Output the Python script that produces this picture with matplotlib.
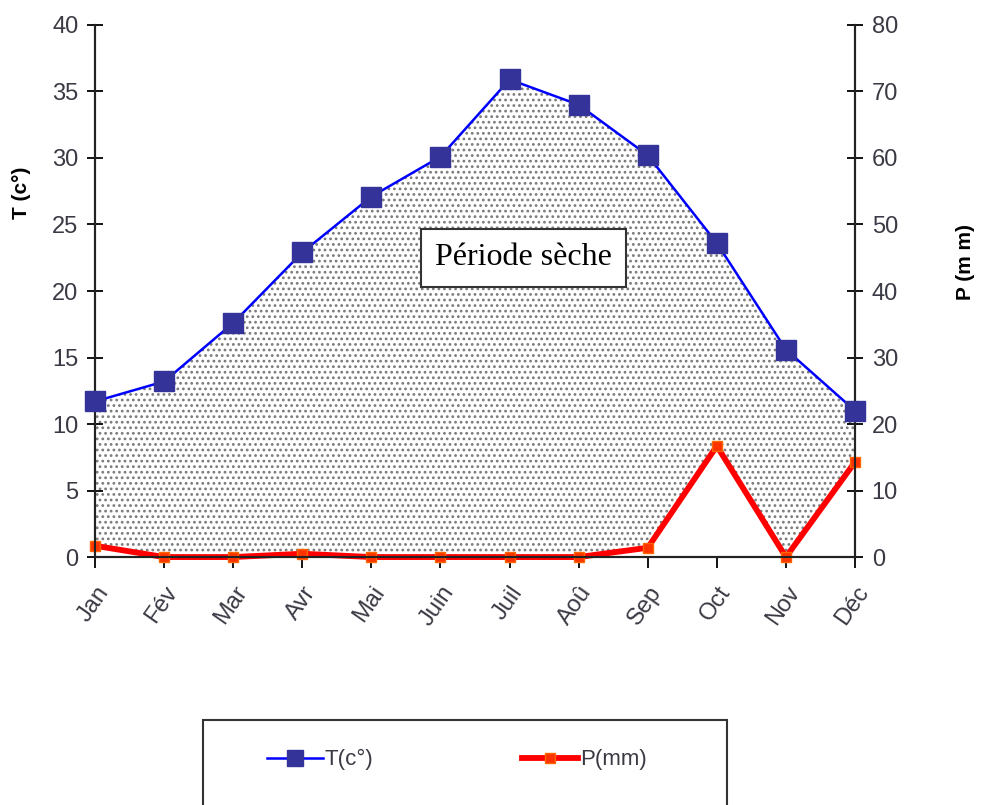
import numpy as np
import matplotlib.pyplot as plt
from matplotlib.patches import Rectangle
from matplotlib.lines import Line2D

# Données climatiques (diagramme ombrothermique)
mois = ["Jan", "Fév", "Mar", "Avr", "Mai", "Juin", "Juil", "Aoû", "Sep", "Oct", "Nov", "Déc"]
temp_c = [11.7, 13.2, 17.6, 22.9, 27.1, 30.1, 35.9, 34.0, 30.2, 23.6, 15.6, 11.0]
precip_mm = [1.7, 0.0, 0.0, 0.5, 0.0, 0.0, 0.0, 0.0, 1.4, 16.7, 0.0, 14.3]

sans = ["Liberation Sans", "DejaVu Sans"]
tick_col = "#3a3a44"
plt.rcParams["hatch.linewidth"] = 1.2
plt.rcParams["hatch.color"] = "#7a7a7a"

fig = plt.figure(figsize=(9.87, 8.05), dpi=100)
ax2 = fig.add_axes([0.0963, 0.308, 0.770, 0.661])   # P (mm), derrière
ax = ax2.twinx()                                      # T (°C), devant
ax.yaxis.tick_left()
ax2.yaxis.tick_right()

x = np.arange(len(mois))
t = np.array(temp_c)
p = np.array(precip_mm)

# Période sèche : zone entre P et 2T (échelle P = 2T)
ax2.fill_between(x, p, 2 * t, where=2 * t > p, facecolor="white",
                 edgecolor="#7a7a7a", hatch="...", linewidth=0, zorder=1)

ax2.plot(x, p, color="#ff0000", lw=4.2, marker="s", markersize=7, clip_on=False,
         markerfacecolor="#ff3300", markeredgecolor="#ff6600", zorder=3)
ax.plot(x, t, color="#0000ff", lw=1.8, marker="s", markersize=14, clip_on=False,
        markerfacecolor="#333399", markeredgecolor="#333399", zorder=3)

ax.set_xlim(0, 11)
ax.set_ylim(0, 40)
ax2.set_ylim(0, 80)
ax.set_yticks(np.arange(0, 41, 5))
ax2.set_yticks(np.arange(0, 81, 10))
ax2.set_xticks(x)
ax2.set_xticklabels(mois, rotation=55, ha="right", va="top",
                    rotation_mode="anchor", family=sans, fontsize=17, color=tick_col)
for lab in ax.get_yticklabels() + ax2.get_yticklabels():
    lab.set_family(sans)
ax.tick_params(axis="y", direction="inout", length=12, width=1.3,
               labelsize=17, labelcolor=tick_col, pad=6)
ax2.tick_params(axis="y", direction="inout", length=12, width=1.3,
                labelsize=17, labelcolor=tick_col, pad=6)
ax2.tick_params(axis="x", direction="out", length=8, width=1.3, pad=10)

for a in (ax, ax2):
    a.spines["top"].set_visible(False)
    for s in ("left", "right", "bottom"):
        a.spines[s].set_linewidth(1.5)
        a.spines[s].set_color("#222222")
ax.patch.set_visible(False)

fig.text(0.022, 0.76, "T (c°)", rotation=90, ha="center", va="center",
         fontsize=15, fontweight="bold", family=sans)
fig.text(0.978, 0.675, "P (m m)", rotation=90, ha="center", va="center",
         fontsize=15, fontweight="bold", family=sans)

ax.text(6.2, 22.5, "Période sèche", family=["Liberation Serif", "DejaVu Serif"],
        fontsize=23, ha="center", va="center", zorder=5,
        bbox=dict(boxstyle="square,pad=0.45", fc="white", ec="#333333", lw=1.5))

# Légende
fig.patches.append(Rectangle((0.2057, -0.05), 0.531, 0.1556, transform=fig.transFigure,
                             fill=False, ec="#333333", lw=1.5))
handles = [Line2D([], [], color="#0000ff", lw=1.8, marker="s", markersize=12,
                  markerfacecolor="#333399", markeredgecolor="#333399"),
           Line2D([], [], color="#ff0000", lw=4.2, marker="s", markersize=7,
                  markerfacecolor="#ff3300", markeredgecolor="#ff6600")]
fig.legend(handles, ["T(c°)", "P(mm)"], ncol=2, loc="center",
           bbox_to_anchor=(0.463, 0.056), frameon=False, handlelength=2.5,
           handletextpad=0.1, columnspacing=6.7,
           prop={"family": sans, "size": 16}, labelcolor=tick_col)

fig.savefig("out.png", dpi=100)
